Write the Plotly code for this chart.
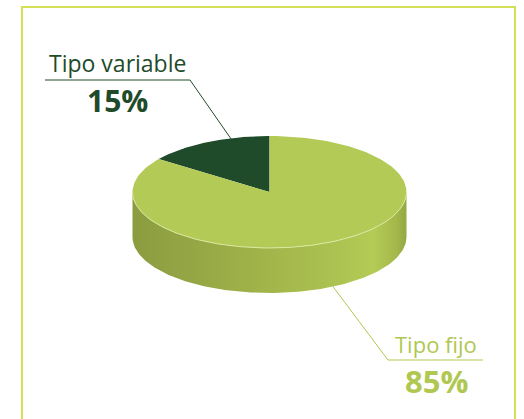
import numpy as np
import plotly.graph_objects as go

labels = ["Tipo variable", "Tipo fijo"]
values = [15, 85]
top_colors = ["#1f4b2b", "#b4ca56"]
text_colors = ["#1f4b2b", "#b0c752"]
side_stops = [[0.0, "#8a9c3f"], [0.25, "#96a845"], [0.5, "#a2b54b"], [0.72, "#abc150"],
              [0.88, "#b4cb56"], [0.96, "#a5b84b"], [1.0, "#94a843"]]

W, H = 524, 419
cx, cy, rx, ry, depth = 269.5, 192.0, 137.0, 56.0, 45.0
start_deg = 90.0


def pt(t, dz=0.0):
    return cx + rx * np.cos(t), cy - ry * np.sin(t) + dz


fig = go.Figure()

total = sum(values)
angles = [start_deg]
for v in values:
    angles.append(angles[-1] + v / total * 360.0)

# side (front half) of the cylinder
ts = np.radians(np.linspace(180, 360, 181))
xs_top, ys_top = pt(ts)
xs_bot, ys_bot = pt(ts[::-1], depth)
fig.add_trace(go.Scatter(
    x=np.concatenate([xs_top, xs_bot]), y=np.concatenate([ys_top, ys_bot]),
    fill="toself", mode="lines", line=dict(width=0),
    fillgradient=dict(type="horizontal", colorscale=side_stops),
    hoverinfo="skip", showlegend=False))

# top faces
for i, v in enumerate(values):
    a, b = angles[i], angles[i + 1]
    t = np.radians(np.linspace(a, b, 200))
    x, y = pt(t)
    fig.add_trace(go.Scatter(
        x=np.concatenate([[cx], x, [cx]]), y=np.concatenate([[cy], y, [cy]]),
        fill="toself", fillcolor=top_colors[i], mode="lines", line=dict(width=0),
        hoverinfo="skip", showlegend=False, name=labels[i]))

# light rim highlight on front edge
fig.add_trace(go.Scatter(x=xs_top, y=ys_top, mode="lines",
                         line=dict(color="#dbe6a0", width=1),
                         hoverinfo="skip", showlegend=False))

shapes = []
annotations = []

# frame
fc = "#d4e157"
shapes += [
    dict(type="line", x0=22, y0=7, x1=515, y1=7, line=dict(color=fc, width=2)),
    dict(type="line", x0=22, y0=6, x1=22, y1=H + 5, line=dict(color=fc, width=2)),
    dict(type="line", x0=515, y0=6, x1=515, y1=H + 5, line=dict(color=fc, width=2)),
]

# label layout
label_pos = [
    dict(x=117.5, ny=63, py=100, ux0=45, ux1=190, uy=80, ex=190, size=23, psize=30,
         frac=0.3, side=False),
    dict(x=436, ny=344, py=381, ux0=388, ux1=483, uy=360, ex=388, size=22, psize=31,
         frac=0.5, side=True),
]

for i, lp in enumerate(label_pos):
    a, b = angles[i], angles[i + 1]
    m = np.radians(a + lp["frac"] * (b - a))
    if lp["side"]:
        ax, ay = pt(m, depth)
        ay -= 2
    else:
        ax, ay = pt(m)
        ay += 1
    col = text_colors[i]
    shapes.append(dict(type="line", x0=lp["ux0"], y0=lp["uy"], x1=lp["ux1"], y1=lp["uy"],
                       line=dict(color=col, width=1)))
    shapes.append(dict(type="line", x0=lp["ex"], y0=lp["uy"], x1=ax, y1=ay,
                       line=dict(color=col, width=1)))
    annotations.append(dict(x=lp["x"], y=lp["ny"], text=labels[i], showarrow=False,
                            xanchor="center", yanchor="middle",
                            font=dict(family="Open Sans", size=lp["size"], color=col, weight=500)))
    annotations.append(dict(x=lp["x"], y=lp["py"], text=f"{values[i]}%", showarrow=False,
                            xanchor="center", yanchor="middle",
                            font=dict(family="Open Sans", size=lp["psize"], color=col, weight=700)))

fig.update_layout(
    width=W, height=H, margin=dict(l=0, r=0, t=0, b=0),
    paper_bgcolor="white", plot_bgcolor="white",
    xaxis=dict(range=[0, W], visible=False, fixedrange=True),
    yaxis=dict(range=[H, 0], visible=False, fixedrange=True),
    shapes=shapes, annotations=annotations, showlegend=False,
)

fig.write_html("out.html", config={"displayModeBar": False},
               post_script="document.body.style.margin='0';document.body.style.overflow='hidden';")
